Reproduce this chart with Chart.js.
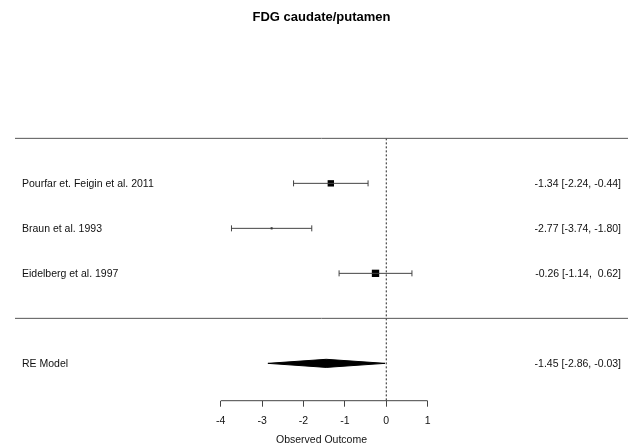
<!DOCTYPE html>
<html>
<head>
<meta charset="utf-8">
<script src="https://cdn.jsdelivr.net/npm/chart.js@4.4.1/dist/chart.umd.min.js"></script>
<style>
  html, body { margin: 0; padding: 0; background: #fff; }
  canvas { display: block; }
</style>
</head>
<body>
<canvas id="forest" width="635" height="444"></canvas>
<script>
// forest plot data
const chartTitle = "FDG caudate/putamen";
const studies = ["Pourfar et. Feigin et al. 2011", "Braun et al. 1993", "Eidelberg et al. 1997"];
const estimates = [-1.34, -2.77, -0.26];
const ciLower = [-2.24, -3.74, -1.14];
const ciUpper = [-0.44, -1.80, 0.62];
const summaryLabel = "RE Model";
const summaryEstimate = [-1.45];
const summaryLower = [-2.86];
const summaryUpper = [-0.03];
const xTicks = [-4, -3, -2, -1, 0, 1];
const xAxisTitle = "Observed Outcome";

// styling
const FONT = "'Liberation Sans', Arial, Helvetica, sans-serif";
const squareRadius = [4.5, 1.4, 5.2];
const xMin = -8.97, xMax = 5.84;
const yMin = -1.83, yMax = 6.63;
const diamondHalf = 0.09;

const k = studies.length;
const rows = studies.map((_, i) => k - i);
const summaryRow = -1;

function fmt(v) {
  return v.toFixed(2).padStart(5, " ");
}

const ciSets = studies.map((_, i) => ({
  data: [{ x: ciLower[i], y: rows[i] }, { x: ciUpper[i], y: rows[i] }],
  showLine: true,
  borderColor: "#444",
  borderWidth: 1,
  pointStyle: "line",
  pointRotation: 90,
  pointRadius: 3,
  pointBorderColor: "#444",
  pointBorderWidth: 1,
  clip: false
}));

const datasets = [
  // separators
  { data: [{ x: xMin, y: k + 1 }, { x: xMax, y: k + 1 }], showLine: true, borderColor: "#555", borderWidth: 1, pointRadius: 0, clip: false },
  { data: [{ x: xMin, y: 0 }, { x: xMax, y: 0 }], showLine: true, borderColor: "#555", borderWidth: 1, pointRadius: 0, clip: false },
  // reference line at 0
  { data: [{ x: 0, y: k + 1 }, { x: 0, y: yMin }], showLine: true, borderColor: "#222", borderWidth: 1, borderDash: [2, 2], pointRadius: 0, clip: false },
  // axis line
  { data: [{ x: xTicks[0], y: yMin }, { x: xTicks[xTicks.length - 1], y: yMin }], showLine: true, borderColor: "#444", borderWidth: 1, pointRadius: 0, clip: false },
  ...ciSets,
  {
    data: estimates.map((v, i) => ({ x: v, y: rows[i] })),
    pointStyle: "rect",
    pointRadius: squareRadius,
    backgroundColor: "#000",
    borderWidth: 0,
    clip: false
  },
  {
    data: [
      { x: summaryLower[0], y: summaryRow },
      { x: summaryEstimate[0], y: summaryRow + diamondHalf },
      { x: summaryUpper[0], y: summaryRow },
      { x: summaryEstimate[0], y: summaryRow - diamondHalf },
      { x: summaryLower[0], y: summaryRow }
    ],
    showLine: true,
    fill: "shape",
    backgroundColor: "#000",
    borderColor: "#000",
    borderWidth: 1,
    pointRadius: 0,
    tension: 0,
    clip: false
  }
];

const textPlugin = {
  id: "forestText",
  afterDraw(chart) {
    const { ctx, chartArea } = chart;
    const y = chart.scales.y;
    const rowY = r => y.getPixelForValue(r) + 1;
    ctx.save();
    ctx.fillStyle = "#111";
    ctx.font = "10.5px " + FONT;
    ctx.textBaseline = "middle";
    ctx.textAlign = "left";
    studies.forEach((s, i) => ctx.fillText(s, chartArea.left + 7, rowY(rows[i])));
    ctx.fillText(summaryLabel, chartArea.left + 7, rowY(summaryRow));
    ctx.textAlign = "right";
    studies.forEach((s, i) => {
      const txt = fmt(estimates[i]) + " [" + fmt(ciLower[i]) + ", " + fmt(ciUpper[i]) + "]";
      ctx.fillText(txt.trim(), chartArea.right - 7, rowY(rows[i]));
    });
    const sumTxt = fmt(summaryEstimate[0]) + " [" + fmt(summaryLower[0]) + ", " + fmt(summaryUpper[0]) + "]";
    ctx.fillText(sumTxt.trim(), chartArea.right - 7, rowY(summaryRow));
    // title
    ctx.fillStyle = "#000";
    ctx.font = "bold 13px " + FONT;
    ctx.textAlign = "center";
    ctx.fillText(chartTitle, (chartArea.left + chartArea.right) / 2, 17);
    ctx.restore();
  }
};

new Chart(document.getElementById("forest"), {
  type: "scatter",
  data: { datasets },
  options: {
    responsive: false,
    animation: false,
    devicePixelRatio: 1,
    events: [],
    layout: { padding: { left: 15, right: 7, top: 20, bottom: 0 } },
    plugins: { legend: { display: false }, tooltip: { enabled: false }, title: { display: false } },
    scales: {
      x: {
        type: "linear",
        min: xMin,
        max: xMax,
        afterBuildTicks(scale) { scale.ticks = xTicks.map(v => ({ value: v })); },
        afterFit(scale) { scale.height = 43.3; },
        border: { display: false },
        grid: { drawOnChartArea: false, drawTicks: true, tickLength: 6, color: "#444", tickColor: "#444" },
        ticks: { color: "#111", padding: 8, font: { family: FONT, size: 10.5 }, maxRotation: 0, autoSkip: false },
        title: { display: true, text: xAxisTitle, color: "#111", font: { family: FONT, size: 10.5 }, padding: { top: 0, bottom: -2 } }
      },
      y: { type: "linear", min: yMin, max: yMax, display: false }
    }
  },
  plugins: [textPlugin]
});
</script>
</body>
</html>
